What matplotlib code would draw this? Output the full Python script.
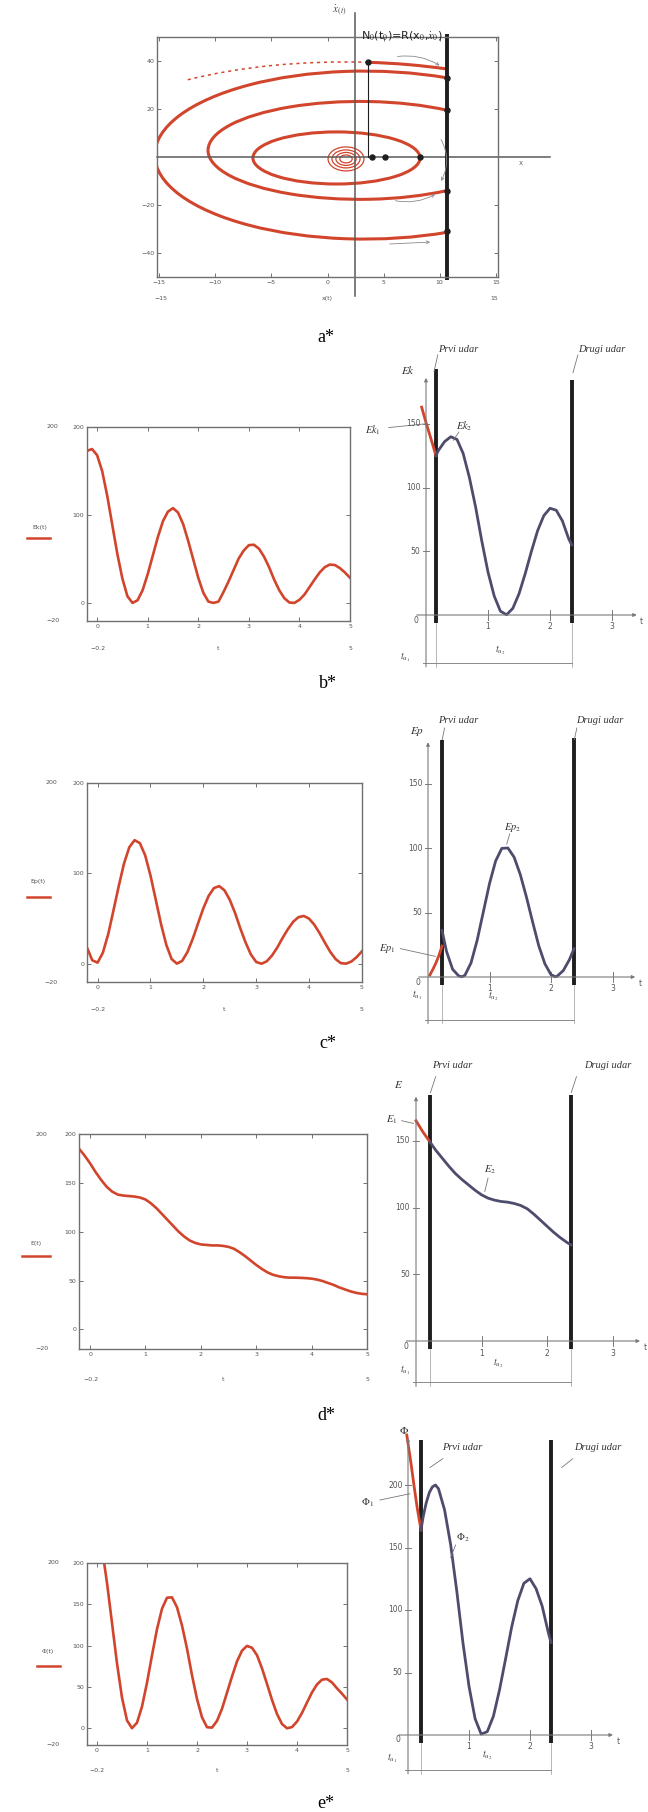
import numpy as np
import matplotlib
matplotlib.use("Agg")
import matplotlib.pyplot as plt
from matplotlib.patches import Arc, Ellipse
from matplotlib.lines import Line2D
from matplotlib.transforms import blended_transform_factory

plt.rcParams['mathtext.fontset'] = 'stix'

W, H = 648, 1812
RED = '#d2452d'
BLUE = '#4e4c6c'
DARK = '#1e1e1e'
GRAY = '#7a7a7a'
TXT = '#555555'

# ---------------- data ----------------
# left panels: time grid and curves
t_left = np.round(np.arange(-0.2, 5.05, 0.1), 1)
Ek_left = [173, 175, 168, 150, 122, 89, 56, 28, 8, 0.5,
           3.5, 15, 33, 54, 75, 93, 104, 108, 103, 90,
           71, 50, 29, 12, 2, 0.5, 2, 13, 25, 38,
           51, 60, 66, 66.5, 62, 53, 41, 27, 15, 6,
           1, 0.5, 4, 10, 18.5, 27, 35, 41, 44, 43.5,
           40, 35, 29]
Ep_left = [18, 4, 1.4, 12.4, 32.6, 59, 86, 111, 129, 136.8,
           133.5, 120, 97.8, 71, 44, 21, 5.4, 0.3, 3.4, 13.2,
           27.8, 44.8, 61.5, 75.2, 83.8, 86, 81.3, 70.8, 56.3, 39.1,
           23.5, 10.3, 2.1, 0.2, 2.9, 9.4, 18.3, 28.9, 38.5, 46.7,
           51.7, 53, 50, 43.2, 33.8, 23.3, 13.3, 5.4, 0.8, 0.3,
           2.7, 7.6, 14]
E_left = [185, 178, 170, 161, 153, 146, 141, 138, 137, 136.5,
          136, 135, 133, 129, 124, 118, 112, 106, 100, 95,
          91, 88.5, 87, 86.5, 86, 86, 85.5, 84.5, 82.5, 79,
          75, 70.5, 66, 62, 58.5, 56, 54.5, 53.5, 53, 53,
          52.8, 52.5, 52, 51, 49.5, 47.5, 45.5, 43, 41, 39,
          37.5, 36.5, 36]
Phi_left = [252, 255, 245, 218, 176, 127.5, 78.7, 37.3, 9.7, 0.3,
            6.9, 26.5, 55.3, 88.4, 120, 144.7, 158, 158.5, 146.5, 124.4,
            96.6, 64.4, 35.6, 13.5, 1.5, 1, 9.1, 23.8, 43.2, 62.8,
            81.1, 94, 99.8, 97.5, 88.6, 72.7, 53.9, 34.5, 17.5, 5.4,
            0.2, 1.7, 8.3, 18.8, 31.3, 43.6, 53.2, 59, 59.8, 55.6,
            48.5, 42, 35]

# right panels: before first impact (red) and between impacts (blue)
Ek1_t = [-0.07, 0.0, 0.05, 0.1, 0.16]
Ek1_v = [163, 151, 143, 135, 125]
Ek2_t = [0.16, 0.2, 0.3, 0.4, 0.5, 0.6, 0.7, 0.8, 0.9, 1.0, 1.1, 1.2,
         1.3, 1.4, 1.5, 1.6, 1.7, 1.8, 1.9, 2.0, 2.1, 2.2, 2.3, 2.35]
Ek2_v = [125, 129, 136, 139.8, 137.7, 126.6, 107.8, 84.7, 58, 33.7, 14.9, 3,
         0.2, 5.2, 16.6, 32.4, 49.9, 66.1, 77.9, 83.7, 82.2, 73.8, 60, 55]

Ep1_t = [0.03, 0.08, 0.13, 0.18, 0.228]
Ep1_v = [1.5, 6, 11, 17, 24]
Ep2_t = [0.228, 0.3, 0.4, 0.5, 0.55, 0.6, 0.7, 0.8, 0.9, 1.0, 1.1, 1.2, 1.3,
         1.4, 1.5, 1.6, 1.7, 1.8, 1.9, 2.0, 2.07, 2.1, 2.2, 2.3, 2.374]
Ep2_v = [36, 20, 6, 0.8, 0.2, 1.3, 11, 28.6, 50.5, 72.4, 90, 99.7, 100,
         92.9, 79.5, 62.1, 42.9, 24.4, 10.3, 1.8, 0.2, 0.6, 5, 13.5, 22]

E1_t = [0.0, 0.1, 0.214]
E1_v = [165, 157, 149]
E2_t = [0.214, 0.3, 0.4, 0.5, 0.6, 0.7, 0.8, 0.9, 1.0, 1.1, 1.2, 1.3,
        1.4, 1.5, 1.6, 1.7, 1.8, 1.9, 2.0, 2.1, 2.2, 2.3, 2.366]
E2_v = [149, 143, 137, 131, 125.5, 121, 117, 113, 109.5, 107, 105.5, 104.5,
        104, 103, 101.5, 99, 95, 90.5, 86, 81.5, 77.5, 74, 72]

Phi1_t = [-0.02, 0.05, 0.1, 0.15, 0.213]
Phi1_v = [240, 217, 199, 182, 164]
Phi2_t = [0.213, 0.25, 0.3, 0.35, 0.4, 0.45, 0.5, 0.6, 0.7, 0.8, 0.9, 1.0, 1.1,
          1.2, 1.3, 1.4, 1.5, 1.6, 1.7, 1.8, 1.9, 2.0, 2.1, 2.2, 2.3, 2.344]
Phi2_v = [164, 175, 186, 194, 198.5, 200, 197, 180, 152, 115, 74, 39, 13,
          0.7, 2.7, 15, 36, 61, 86.5, 107.5, 121.4, 125, 117, 103, 82, 74]

# phase plane (panel a): elliptic arcs (cx, cy, width, height, theta1, theta2)
phase_arcs = [(1.56, 0.0, 48.1, 79.2, 76.1, 87.0),
              (3.3, 0.8, 37.4, 70.0, 77.2, 283.0),
              (2.9, 2.75, 27.1, 40.8, 65.2, 294.8)]
phase_dashed = (1.56, 0.0, 48.1, 79.2, 87.0, 113.7)
inner_ellipse = (0.8, -0.4, 14.9, 21.7)
spiral_w = [3.2, 2.5, 1.8, 1.1]
spiral_h = [10.0, 7.5, 5.4, 3.3]
spiral_c = (1.65, -0.8)
wall_x = 10.64
wall_dots_y = [33, 19.5, -14, -31]
axis_dots_x = [3.96, 5.12, 8.24]
N0 = (3.6, 39.6)
a_xticks = [-15, -10, -5, 0, 5, 10, 15]
a_yticks = [-40, -20, 20, 40]

# ---------------- figure ----------------
fig = plt.figure(figsize=(W / 100, H / 100), dpi=100)


def px_axes(x0, y0, x1, y1):
    return fig.add_axes([x0 / W, 1 - y1 / H, (x1 - x0) / W, (y1 - y0) / H])


def ftext(x, y, s, **kw):
    fig.text(x / W, 1 - y / H, s, **kw)


def style_box(ax):
    for s in ax.spines.values():
        s.set_color('#707070')
        s.set_linewidth(1.0)
    ax.tick_params(direction='in', length=3, width=0.7, colors='#707070',
                   labelcolor=TXT, labelsize=4.5, top=True, right=True, pad=2)


# ---- panel a: phase plane ----
ax = px_axes(157, 37, 498, 277)
ax.set_xlim(-15.2, 15.2)
ax.set_ylim(-50, 50)
style_box(ax)
ax.set_xticks(a_xticks)
ax.set_xticklabels([str(v).replace('-', '\u2212') for v in a_xticks])
ax.set_yticks(a_yticks)
ax.set_yticklabels([str(v).replace('-', '\u2212') for v in a_yticks])
tr = ax.transAxes
ax.text(0.01, -0.09, '\u221215', transform=tr, fontsize=4.5, color=TXT, ha='center', va='center')
ax.text(0.5, -0.09, 'x(t)', transform=tr, fontsize=4.5, color=TXT, ha='center', va='center')
ax.text(0.99, -0.09, '15', transform=tr, fontsize=4.5, color=TXT, ha='center', va='center')

ax.plot([2.45, 2.45], [-58, 60], color='#5a5a5a', lw=1.1, clip_on=False)
ax.plot([-15.2, 19.8], [0, 0], color='#5a5a5a', lw=1.1, clip_on=False)
ax.text(1.0, 61, r'$\dot{x}_{(t)}$', fontsize=8, ha='center', va='center', color='#444')
ax.text(17.2, -2.5, 'x', fontsize=5, ha='center', va='center', color='#666')

for cx, cy, w, h, t1, t2 in phase_arcs:
    ax.add_patch(Arc((cx, cy), w, h, theta1=t1, theta2=t2, color=RED, lw=2.2))
cx, cy, w, h, t1, t2 = phase_dashed
ax.add_patch(Arc((cx, cy), w, h, theta1=t1, theta2=t2, color=RED, lw=1.1,
                 linestyle=(0, (2, 2.5))))
cx, cy, w, h = inner_ellipse
ax.add_patch(Ellipse((cx, cy), w, h, fill=False, ec=RED, lw=2.2))
for w, h in zip(spiral_w, spiral_h):
    ax.add_patch(Ellipse(spiral_c, w, h, fill=False, ec=RED, lw=0.9))

ax.plot([wall_x, wall_x], [-51.3, 51.3], color=DARK, lw=2.8, clip_on=False,
        solid_capstyle='butt')
ax.plot([N0[0], N0[0]], [N0[1], 0], color=DARK, lw=0.8)
ax.plot([wall_x] * len(wall_dots_y), wall_dots_y, 'o', color=DARK, ms=3.6)
ax.plot(axis_dots_x, [0] * len(axis_dots_x), 'o', color=DARK, ms=3.6)
ax.plot([N0[0]], [N0[1]], 'o', color=DARK, ms=3.6)
ax.text(6.6, 50.5, r'N$_0$(t$_0$)=R(x$_0$,$\dot{x}_0$)', fontsize=8,
        ha='center', va='center', color='#222')
arrow_kw = dict(arrowstyle='->', color='#8a8a8a', lw=0.6, mutation_scale=5)
for p0, p1, rad in [((6.0, 41.7), (10.2, 37.5), -0.2), ((10.0, 8.3), (10.0, -11), -0.3),
                    ((5.8, -18), (9.8, -15), 0.2), ((5.3, -36.3), (9.4, -35.4), 0.0)]:
    ax.annotate('', xy=p1, xytext=p0,
                arrowprops=dict(connectionstyle=f'arc3,rad={rad}', **arrow_kw))

ftext(326, 337, 'a*', fontsize=13, family='Liberation Serif', ha='center', va='center')


# ---- left panels ----
def left_panel(box, values, yticks, legend, leg_txt, leg_line):
    ax = px_axes(*box)
    ax.plot(t_left, values, color=RED, lw=1.9)
    ax.set_xlim(-0.2, 5)
    ax.set_ylim(-20, 200)
    style_box(ax)
    ax.set_xticks(range(6))
    ax.set_yticks(yticks)
    ax.set_yticklabels([str(v) for v in yticks])
    bt = blended_transform_factory(ax.transAxes, ax.transData)
    ax.text(-0.13, 200, '200', transform=bt, fontsize=4.5, color=TXT, ha='center', va='center')
    ax.text(-0.13, -20, '\u221220', transform=bt, fontsize=4.5, color=TXT, ha='center', va='center')
    ax.text(0.04, -0.14, '\u22120.2', transform=ax.transAxes, fontsize=4.5, color=TXT, ha='center', va='center')
    ax.text(0.5, -0.14, 't', transform=ax.transAxes, fontsize=4.5, color=TXT, ha='center', va='center')
    ax.text(1.0, -0.14, '5', transform=ax.transAxes, fontsize=4.5, color=TXT, ha='center', va='center')
    ftext(leg_txt[0], leg_txt[1], legend, fontsize=4.5, color=TXT, ha='center', va='center')
    x0, x1, y = leg_line
    fig.add_artist(Line2D([x0 / W, x1 / W], [1 - y / H, 1 - y / H], color=RED, lw=1.8))


left_panel((87, 427, 350, 621), Ek_left, [0, 100, 200], 'Ek(t)', (40, 527), (27, 50, 538))
left_panel((87, 783, 362, 982), Ep_left, [0, 100, 200], 'Ep(t)', (38, 882), (27, 50, 897))
left_panel((79, 1134, 367, 1349), E_left, [0, 50, 100, 150, 200], 'E(t)', (36, 1243), (22, 50, 1256))
left_panel((87, 1563, 347, 1745), Phi_left, [0, 50, 100, 150, 200], '\u03a6(t)', (48, 1652), (37, 60, 1666))


# ---- right panels ----
def right_panel(rect, origin, scale, tu, tops, red, blue, yticks, ytop, xend, dimv, ylab):
    x0, y0, x1, y1 = rect
    ox, oy = origin
    sx, sy = scale
    ax = px_axes(x0, y0, x1, y1)
    ax.set_xlim((x0 - ox) / sx, (x1 - ox) / sx)
    ax.set_ylim((oy - y1) / sy, (oy - y0) / sy)
    ax.axis('off')
    ak = dict(arrowstyle='-|>', color=GRAY, lw=0.8, mutation_scale=5, shrinkA=0, shrinkB=0)
    ax.annotate('', xy=(0, ytop), xytext=(0, dimv - 3), arrowprops=ak)
    ax.annotate('', xy=(xend, 0), xytext=(-0.15, 0), arrowprops=ak)
    for yt in yticks:
        ax.plot([-0.05, 0.05], [yt, yt], color=GRAY, lw=0.7)
        ax.text(-0.09, yt, str(yt), fontsize=5.5, color=TXT, ha='right', va='center')
    ax.text(-0.12, -4, '0', fontsize=5.5, color=TXT, ha='right', va='center')
    for xt in (1, 2, 3):
        ax.plot([xt, xt], [-4, 4], color=GRAY, lw=0.7)
        ax.text(xt, -9, str(xt), fontsize=5.5, color=TXT, ha='center', va='center')
    ax.text(xend + 0.08, -5, 't', fontsize=5.5, color=TXT, ha='center', va='center')
    # impact lines and dimension line
    for t_imp, top in zip(tu, tops):
        ax.plot([t_imp, t_imp], [-6, top], color=DARK, lw=2.8, solid_capstyle='butt')
        ax.plot([t_imp, t_imp], [-6, dimv - 3], color='#9a9a9a', lw=0.5)
    ax.plot([-0.05, tu[1]], [dimv, dimv], color='#8a8a8a', lw=0.7)
    ax.plot(red[0], red[1], color=RED, lw=2.0)
    ax.plot(blue[0], blue[1], color=BLUE, lw=2.0)
    ax.text(ylab[0], ylab[1], ylab[2], fontsize=8, color='#333', ha='center', va='center')
    return ax


def note(ax, s, xy, p0, p1, size=7.5):
    ax.text(xy[0], xy[1], s, fontsize=size, color='#333', ha='center', va='center')
    ax.plot([p0[0], p1[0]], [p0[1], p1[1]], color='#777', lw=0.6, clip_on=False)


def udar(ax, xy1, l1, xy2, l2):
    kw = dict(fontsize=7.5, family='Liberation Serif', style='italic', color='#333',
              ha='center', va='center')
    ax.text(xy1[0], xy1[1], 'Prvi udar', **kw)
    ax.text(xy2[0], xy2[1], 'Drugi udar', **kw)
    for p0, p1 in (l1, l2):
        ax.plot([p0[0], p1[0]], [p0[1], p1[1]], color='#777', lw=0.6, clip_on=False)


def tu_labels(ax, p1, p2):
    ax.text(p1[0], p1[1], r'$t_{u_1}$', fontsize=7, color='#444', ha='center', va='center')
    ax.text(p2[0], p2[1], r'$t_{u_2}$', fontsize=7, color='#444', ha='center', va='center')


# b
ax = right_panel((355, 340, 648, 670), (426, 615), (62, 1.275), (0.16, 2.35), (193, 184),
                 (Ek1_t, Ek1_v), (Ek2_t, Ek2_v), [50, 100, 150], 186, 3.4, -37.6,
                 (-0.29, 192, r'$Ek$'))
udar(ax, (0.52, 208), ((0.19, 204), (0.13, 191)), (2.84, 208), ((2.45, 204), (2.37, 190)))
note(ax, r'$Ek_1$', (-0.86, 145), (-0.6, 147), (0.0, 150))
note(ax, r'$Ek_2$', (0.62, 148), (0.53, 143.5), (0.44, 137))
tu_labels(ax, (-0.34, -33), (1.19, -28))
ftext(328, 683, 'b*', fontsize=13, family='Liberation Serif', ha='center', va='center')

# c
ax = right_panel((355, 700, 648, 1040), (428, 977), (61.5, 1.29), (0.228, 2.374), (184, 185),
                 (Ep1_t, Ep1_v), (Ep2_t, Ep2_v), [50, 100, 150], 182, 3.37, -33,
                 (-0.18, 190, r'$Ep$'))
udar(ax, (0.49, 199), ((0.27, 193), (0.23, 184)), (2.8, 199), ((2.42, 193), (2.38, 184)))
note(ax, r'$Ep_1$', (-0.67, 22), (-0.45, 22), (0.12, 16))
note(ax, r'$Ep_2$', (1.37, 116), (1.33, 111), (1.28, 103))
tu_labels(ax, (-0.18, -14), (1.06, -15))
ftext(328, 1044, 'c*', fontsize=13, family='Liberation Serif', ha='center', va='center')

# d
ax = right_panel((350, 1070, 648, 1395), (416, 1341), (65.5, 1.335), (0.214, 2.366), (184, 184),
                 (E1_t, E1_v), (E2_t, E2_v), [50, 100, 150], 183, 3.42, -31,
                 (-0.27, 192, r'$E$'))
udar(ax, (0.55, 206), ((0.3, 198), (0.22, 186)), (2.92, 206), ((2.45, 198), (2.37, 186)))
note(ax, r'$E_1$', (-0.37, 165.5), (-0.22, 165), (-0.04, 163))
note(ax, r'$E_2$', (1.13, 128), (1.1, 122), (1.05, 112))
tu_labels(ax, (-0.17, -22), (1.25, -16.5))
ftext(326, 1415, 'd*', fontsize=13, family='Liberation Serif', ha='center', va='center')

# e
ax = right_panel((345, 1425, 648, 1780), (408, 1735), (61, 1.25), (0.213, 2.344), (236, 236),
                 (Phi1_t, Phi1_v), (Phi2_t, Phi2_v), [50, 100, 150, 200], 238, 3.36, -28,
                 (-0.07, 244, r'$\Phi$'))
udar(ax, (0.885, 230), ((0.57, 221), (0.36, 214)), (3.11, 230), ((2.7, 221), (2.52, 214)))
note(ax, r'$\Phi_1$', (-0.66, 186), (-0.46, 188), (0.03, 193))
note(ax, r'$\Phi_2$', (0.9, 158), (0.78, 152), (0.7, 142))
tu_labels(ax, (-0.26, -18.5), (1.3, -16))
ftext(326, 1803, 'e*', fontsize=13, family='Liberation Serif', ha='center', va='center')

fig.savefig('out.png', dpi=100)
